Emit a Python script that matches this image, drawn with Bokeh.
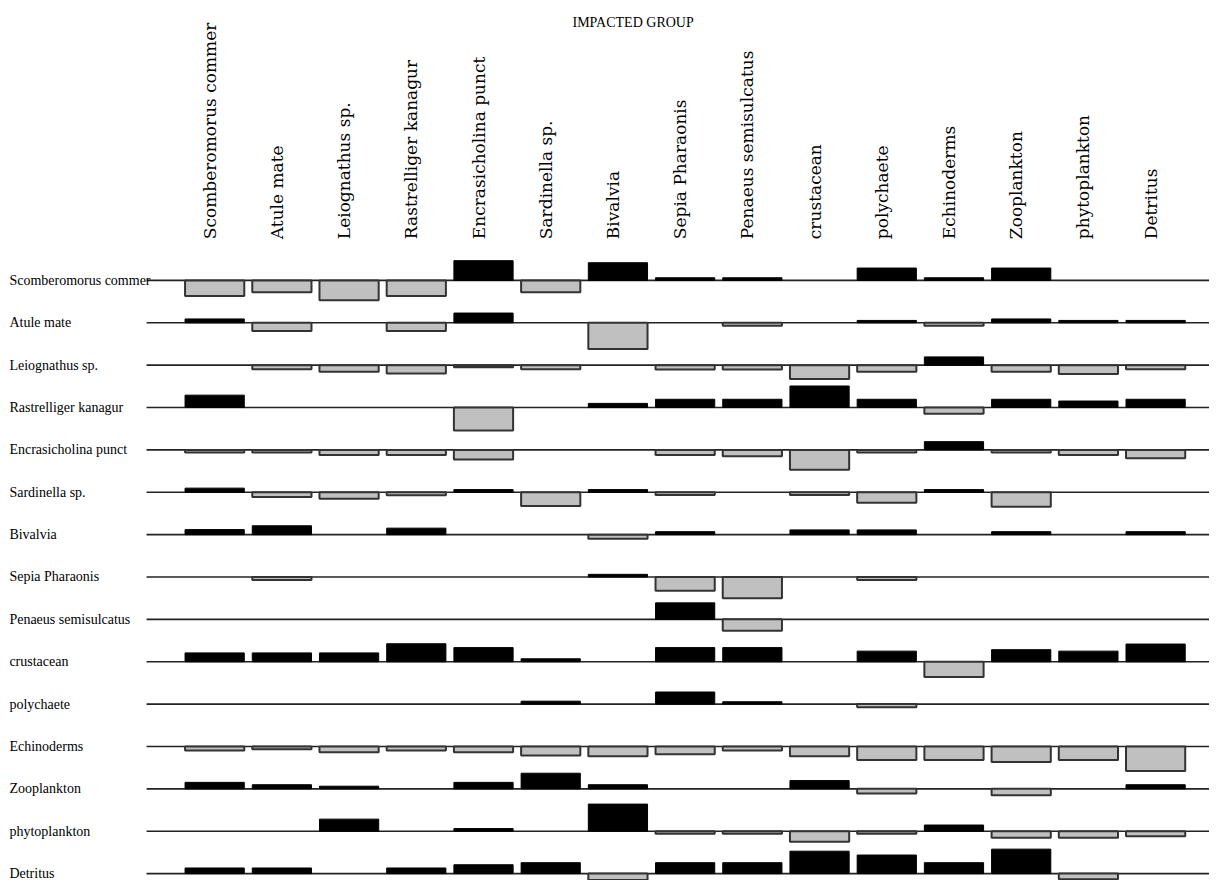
from bokeh.plotting import figure
from bokeh.models import Range1d, ColumnDataSource
from bokeh.embed import file_html
from bokeh.resources import INLINE
from bokeh.core.properties import value
import math

# ---- data ----
impacted_groups = ["Scomberomorus commer", "Atule mate", "Leiognathus sp.", "Rastrelliger kanagur",
                   "Encrasicholina punct", "Sardinella sp.", "Bivalvia", "Sepia Pharaonis",
                   "Penaeus semisulcatus", "crustacean", "polychaete", "Echinoderms",
                   "Zooplankton", "phytoplankton", "Detritus"]
impacting_groups = ["Scomberomorus commer", "Atule mate", "Leiognathus sp.", "Rastrelliger kanagur",
                    "Encrasicholina punct", "Sardinella sp.", "Bivalvia", "Sepia Pharaonis",
                    "Penaeus semisulcatus", "crustacean", "polychaete", "Echinoderms",
                    "Zooplankton", " phytoplankton", "Detritus"]

scomberomorus = [-0.53, -0.40, -0.67, -0.53, 0.67, -0.40, 0.60, 0.09, 0.09, 0.0, 0.42, 0.09, 0.42, 0.0, 0.0]
atule = [0.13, -0.28, 0.0, -0.28, 0.33, 0.0, -0.89, 0.0, -0.10, 0.0, 0.08, -0.10, 0.13, 0.08, 0.08]
leiognathus = [0.0, -0.14, -0.22, -0.28, -0.07, -0.14, 0.0, -0.15, -0.15, -0.47, -0.22, 0.28, -0.22, -0.30, -0.14]
rastrelliger = [0.42, 0.0, 0.0, 0.0, -0.78, 0.0, 0.14, 0.28, 0.28, 0.73, 0.28, -0.21, 0.28, 0.22, 0.28]
encrasicholina = [-0.09, -0.09, -0.17, -0.17, -0.33, 0.0, 0.0, -0.17, -0.22, -0.67, -0.09, 0.28, -0.09, -0.17, -0.28]
sardinella = [0.14, -0.16, -0.22, -0.10, 0.09, -0.47, 0.09, -0.09, 0.0, -0.09, -0.36, 0.09, -0.49, 0.0, 0.0]
bivalvia = [0.17, 0.30, 0.0, 0.22, 0.0, 0.0, -0.14, 0.10, 0.0, 0.16, 0.16, 0.0, 0.10, 0.0, 0.10]
sepia = [0.0, -0.10, 0.0, 0.0, 0.0, 0.0, 0.09, -0.47, -0.72, 0.0, -0.10, 0.0, 0.0, 0.0, 0.0]
penaeus = [0.0, 0.0, 0.0, 0.0, 0.0, 0.0, 0.0, 0.56, -0.39, 0.0, 0.0, 0.0, 0.0, 0.0, 0.0]
crustacean = [0.30, 0.30, 0.30, 0.61, 0.48, 0.10, 0.0, 0.48, 0.48, 0.0, 0.36, -0.52, 0.41, 0.36, 0.60]
polychaete = [0.0, 0.0, 0.0, 0.0, 0.0, 0.10, 0.0, 0.41, 0.08, 0.0, -0.11, 0.0, 0.0, 0.0, 0.0]
echinoderms = [-0.14, -0.09, -0.20, -0.14, -0.20, -0.31, -0.33, -0.26, -0.14, -0.33, -0.46, -0.46, -0.53, -0.46, -0.83]
zooplankton = [0.22, 0.14, 0.09, 0.0, 0.22, 0.53, 0.14, 0.0, 0.0, 0.28, -0.16, 0.0, -0.22, 0.0, 0.14]
phytoplankton = [0.0, 0.0, 0.41, 0.0, 0.09, 0.0, 0.92, -0.09, -0.09, -0.36, -0.09, 0.21, -0.22, -0.22, -0.17]
detritus = [0.19, 0.19, 0.0, 0.19, 0.30, 0.37, -0.22, 0.37, 0.37, 0.76, 0.63, 0.37, 0.83, -0.19, 0.0]

impact_rows = [scomberomorus, atule, leiognathus, rastrelliger, encrasicholina, sardinella,
               bivalvia, sepia, penaeus, crustacean, polychaete, echinoderms, zooplankton,
               phytoplankton, detritus]

# ---- layout (reference px scaled into the figure) ----
W, H = 1209, 880
sx, sy = W / 1225.0, H / 896.0
col_px = 68.1 * sx
row_px = 43.14 * sy
x0_px = 217 * sx
y0_px = 285 * sy
bar_scale = 30.0 * sy / row_px   # impact 1.0 -> ~30 px
half_w = 30.0 * sx / col_px

def xd(px):
    return (px * sx - x0_px) / col_px

def yd(px):
    return (y0_px - px * sy) / row_px

p = figure(width=W, height=H, output_backend="svg", toolbar_location=None,
           x_range=Range1d(-x0_px / col_px, (W - x0_px) / col_px),
           y_range=Range1d(-(H - y0_px) / row_px, y0_px / row_px),
           min_border=0, outline_line_color=None)
p.axis.visible = False
p.grid.visible = False
p.background_fill_color = "white"

n = len(impacting_groups)
# baselines
p.segment(x0=[xd(148)] * n, x1=[xd(1240)] * n,
          y0=[-j for j in range(n)], y1=[-j for j in range(n)],
          line_color="#222222", line_width=1.6)

pos = dict(left=[], right=[], bottom=[], top=[])
neg = dict(left=[], right=[], bottom=[], top=[])
for j, row in enumerate(impact_rows):
    for i, v in enumerate(row):
        if v == 0:
            continue
        d = pos if v > 0 else neg
        d["left"].append(i - half_w)
        d["right"].append(i + half_w)
        base = -j
        tip = -j + v * bar_scale
        d["bottom"].append(min(base, tip))
        d["top"].append(max(base, tip))

p.quad(source=ColumnDataSource(neg), left="left", right="right", bottom="bottom", top="top",
       fill_color="#c0c0c0", line_color="#333333", line_width=2)
p.quad(source=ColumnDataSource(pos), left="left", right="right", bottom="bottom", top="top",
       fill_color="black", line_color="black", line_width=1)

# row labels
p.text(x=[xd(9)] * n, y=[-j for j in range(n)], text=impacting_groups,
       text_font=value("Liberation Serif"), text_font_size="14px", text_color="black",
       text_align="left", text_baseline="middle")

# column labels
m = len(impacted_groups)
p.text(x=[i - 5 * sx / col_px for i in range(m)], y=[yd(243)] * m, text=impacted_groups,
       angle=math.pi / 2, text_font=value("DejaVu Serif"), text_font_size="17px",
       text_color="black", text_align="left", text_baseline="middle")

# title
p.text(x=[xd(641)], y=[yd(22)], text=["IMPACTED GROUP"],
       text_font=value("Liberation Serif"), text_font_size="14px", text_color="black",
       text_align="center", text_baseline="middle")

open("out.html", "w").write(file_html(p, INLINE))
